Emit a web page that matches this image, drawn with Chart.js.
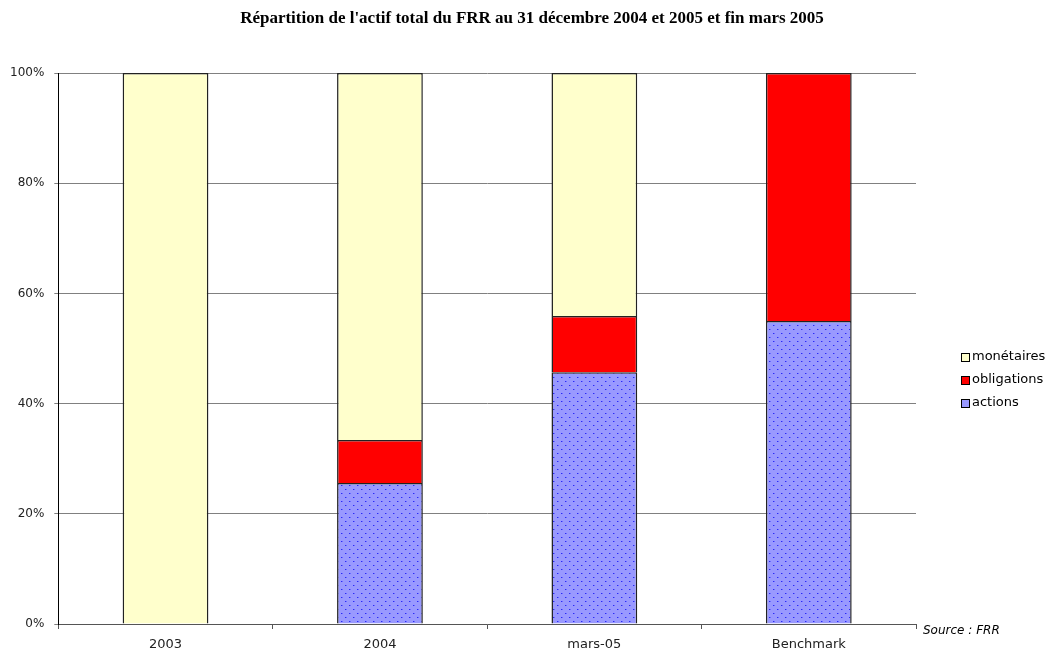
<!DOCTYPE html>
<html>
<head>
<meta charset="utf-8">
<script src="https://cdn.jsdelivr.net/npm/chart.js@4"></script>
<style>
  html, body { margin: 0; padding: 0; background: #fff; }
  #wrap { width: 1058px; height: 652px; }
</style>
</head>
<body>
<div id="wrap"><canvas id="frrChart" width="1058" height="652"></canvas></div>
<script>
const categories = ["2003", "2004", "mars-05", "Benchmark"];
const actions = [0, 25.6, 45.7, 55];
const obligations = [0, 7.8, 10.2, 45];
const monetaires = [100, 66.6, 44.1, 0];
const yTicks = [0, 20, 40, 60, 80, 100];
const titleText = "Répartition de l'actif total du FRR au 31 décembre 2004 et 2005 et fin mars 2005";

const labelFont = "'DejaVu Sans', sans-serif";

// motif pointillé pour les actions
function dotPattern() {
  const c = document.createElement("canvas");
  c.width = 8;
  c.height = 8;
  const p = c.getContext("2d");
  p.fillStyle = "#9999ff";
  p.fillRect(0, 0, 8, 8);
  p.fillStyle = "#2a2af5";
  p.fillRect(1, 1, 1, 1);
  p.fillRect(5, 5, 1, 1);
  p.fillStyle = "#6a6aff";
  p.fillRect(2, 1, 1, 1);
  p.fillRect(6, 5, 1, 1);
  return p.createPattern(c, "repeat");
}

const ctx = document.getElementById("frrChart").getContext("2d");

const legendItems = [
  { text: "monétaires", color: "#ffffcc" },
  { text: "obligations", color: "#ff0000" },
  { text: "actions", color: "#9999ff" },
];

const extras = {
  id: "extras",
  afterDraw(chart) {
    const c = chart.ctx;
    const area = chart.chartArea;
    c.save();
    // titre centré sur toute la largeur
    c.font = "bold 17px 'Liberation Serif', 'Times New Roman', serif";
    c.fillStyle = "#000";
    c.textAlign = "center";
    c.textBaseline = "middle";
    c.fillText(titleText, chart.width / 2 + 3, 19);

    c.font = "13px " + labelFont;
    c.textAlign = "left";
    legendItems.forEach((item, i) => {
      const y = 357 + i * 23;
      c.fillStyle = item.color;
      c.fillRect(961, y - 4, 8, 8);
      c.strokeStyle = "#000";
      c.lineWidth = 1;
      c.strokeRect(961.5, y - 3.5, 8, 8);
      c.fillStyle = "#000";
      c.fillText(item.text, 972, y);
    });
    c.font = "italic 12px " + labelFont;
    c.fillText("Source : FRR", area.right + 7, area.bottom + 7);
    c.restore();
  },
};

const chart = new Chart(ctx, {
  type: "bar",
  data: {
    labels: categories,
    datasets: [
      {
        label: "actions",
        data: actions,
        backgroundColor: dotPattern(),
        borderColor: "#222",
        borderWidth: 1.5,
      },
      {
        label: "obligations",
        data: obligations,
        backgroundColor: "#ff0000",
        borderColor: "#222",
        borderWidth: 1.5,
      },
      {
        label: "monétaires",
        data: monetaires,
        backgroundColor: "#ffffcc",
        borderColor: "#222",
        borderWidth: 1.5,
      },
    ],
  },
  options: {
    responsive: false,
    animation: false,
    barPercentage: 1,
    categoryPercentage: 0.4,
    layout: { padding: { left: 0, right: 142, top: 73, bottom: 0 } },
    plugins: {
      legend: { display: false },
      tooltip: { enabled: false },
      title: { display: false },
    },
    scales: {
      x: {
        stacked: true,
        afterFit(scale) {
          scale.height = 28;
        },
        grid: {
          offset: true,
          drawOnChartArea: false,
          drawTicks: true,
          tickLength: 5,
          color: "#555",
        },
        border: { color: "#555", width: 1 },
        ticks: {
          color: "#222",
          padding: 8,
          font: { family: labelFont, size: 13 },
        },
      },
      y: {
        stacked: true,
        min: 0,
        max: 100,
        afterBuildTicks(axis) {
          axis.ticks = yTicks.map((v) => ({ value: v }));
        },
        grid: {
          color: "#808080",
          tickLength: 4,
        },
        border: { color: "#000", width: 1 },
        ticks: {
          color: "#222",
          padding: 10,
          font: { family: labelFont, size: 12 },
          callback: (v) => v + "%",
        },
      },
    },
  },
  plugins: [extras],
});
</script>
</body>
</html>
